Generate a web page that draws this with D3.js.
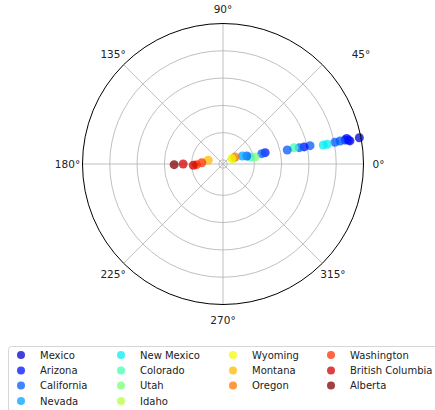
<!DOCTYPE html>
<html>
<head>
<meta charset="utf-8">
<script src="https://cdn.jsdelivr.net/npm/d3@7"></script>
<style>
  html, body { margin: 0; padding: 0; background: #fff; }
  svg { display: block; }
  text { font-family: "DejaVu Sans", sans-serif; }
</style>
</head>
<body>
<svg id="chart" width="435" height="410"></svg>
<script>
// ---- data ----
const states = ["Mexico", "Arizona", "California", "Nevada", "New Mexico", "Colorado", "Utah",
                "Idaho", "Wyoming", "Montana", "Oregon", "Washington", "British Columbia", "Alberta"];
const pointState = ["Mexico", "Mexico", "Arizona", "Arizona", "Arizona", "California", "California",
                    "New Mexico", "New Mexico", "California", "Arizona", "California", "Colorado", "California",
                    "Arizona", "California", "Utah", "Colorado", "California", "Nevada",
                    "Idaho", "Oregon", "Wyoming", "Montana", "Washington", "Washington",
                    "British Columbia", "British Columbia", "Alberta"];
const pointTheta = [10.9, 10.3, 10.8, 11.7, 11.1, 11.1, 11.0,
                    10.7, 10.7, 11.9, 11.9, 12.1, 12.9, 12.3,
                    15.1, 14.9, 12.3, 14.5, 18.6, 22.5,
                    27, 30.3, 31.4, 165.9, 176.5, 181.5,
                    182.5, 180.0, 180.8];
const pointR = [4.94, 4.58, 4.53, 4.48, 4.41, 4.22, 4.03,
                3.74, 3.59, 3.11, 2.89, 2.71, 2.52, 2.26,
                1.45, 1.32, 1.05, 0.88, 0.77, 0.62,
                0.28, 0.36, 0.23, 0.41, 0.63, 0.82,
                0.94, 1.31, 1.64];
const angleTicks = [0, 45, 90, 135, 180, 225, 270, 315];
const radialTicks = [0, 1, 2, 3, 4];
const rMin = -0.15, rMax = 5;

// ---- jet colormap ----
function seg(pts, t) {
  for (let i = 1; i < pts.length; i++) {
    if (t <= pts[i][0]) {
      const [x0, y0] = pts[i - 1], [x1, y1] = pts[i];
      return y0 + (y1 - y0) * (t - x0) / (x1 - x0);
    }
  }
  return pts[pts.length - 1][1];
}
function jet(t) {
  const r = seg([[0, 0], [0.35, 0], [0.66, 1], [0.89, 1], [1, 0.5]], t);
  const g = seg([[0, 0], [0.125, 0], [0.375, 1], [0.64, 1], [0.91, 0], [1, 0]], t);
  const b = seg([[0, 0.5], [0.11, 1], [0.34, 1], [0.65, 0], [1, 0]], t);
  return d3.rgb(r * 255, g * 255, b * 255).formatHex();
}
const color = d3.scaleOrdinal()
  .domain(states)
  .range(states.map((s, i) => jet((i + 1) / states.length)));

// ---- layout ----
const svg = d3.select("#chart");
const cx = 223, cy = 164, R = 140.5;
const rScale = d3.scaleLinear().domain([rMin, rMax]).range([0, R]);
const aScale = d3.scaleLinear().domain([0, 360]).range([0, 2 * Math.PI]);
const px = (r, a) => cx + rScale(r) * Math.cos(aScale(a));
const py = (r, a) => cy - rScale(r) * Math.sin(aScale(a));

const g = svg.append("g");

// radial grid circles
g.selectAll("circle.rgrid").data(radialTicks).enter().append("circle")
  .attr("class", "rgrid")
  .attr("cx", cx).attr("cy", cy)
  .attr("r", d => rScale(d))
  .attr("fill", "none").attr("stroke", "#b0b0b0").attr("stroke-width", 0.8);

// angular grid lines
g.selectAll("line.agrid").data(angleTicks).enter().append("line")
  .attr("class", "agrid")
  .attr("x1", cx).attr("y1", cy)
  .attr("x2", d => px(rMax, d)).attr("y2", d => py(rMax, d))
  .attr("stroke", "#b0b0b0").attr("stroke-width", 0.8);

// points
const pts = pointR.map((r, i) => ({ r, a: pointTheta[i], s: pointState[i] }));
g.selectAll("circle.pt").data(pts).enter().append("circle")
  .attr("class", "pt")
  .attr("cx", d => px(d.r, d.a)).attr("cy", d => py(d.r, d.a))
  .attr("r", 4.5)
  .attr("fill", d => color(d.s))
  .attr("fill-opacity", 0.75);

// outer spine
g.append("circle").attr("cx", cx).attr("cy", cy).attr("r", R)
  .attr("fill", "none").attr("stroke", "#000").attr("stroke-width", 1);

// angle labels
const labR = R + 15;
const labShift = { 45: 28 };
g.selectAll("text.alab").data(angleTicks).enter().append("text")
  .attr("class", "alab")
  .attr("x", d => cx + labR * Math.cos(aScale(d)) + (labShift[d] || 0))
  .attr("y", d => cy - labR * Math.sin(aScale(d)))
  .attr("text-anchor", "middle")
  .attr("dominant-baseline", "central")
  .attr("font-size", 10.5)
  .attr("fill", "#222")
  .text(d => d + "°");

// legend
const leg = svg.append("g");
leg.append("rect")
  .attr("x", 8.5).attr("y", 346.5).attr("width", 440).attr("height", 80).attr("rx", 3)
  .attr("fill", "#fff").attr("stroke", "#d6d6d6").attr("stroke-width", 1);
const colX = [21, 121, 233, 331];
const rowY = [355, 370.5, 385.5, 401];
const perCol = [4, 4, 3, 3];
let idx = 0;
const legItems = [];
perCol.forEach((n, c) => {
  for (let r = 0; r < n; r++) {
    legItems.push({ s: states[idx++], x: colX[c], y: rowY[r] });
  }
});
const li = leg.selectAll("g.li").data(legItems).enter().append("g").attr("class", "li");
li.append("circle")
  .attr("cx", d => d.x).attr("cy", d => d.y).attr("r", 4)
  .attr("fill", d => color(d.s)).attr("fill-opacity", 0.75);
li.append("text")
  .attr("x", d => d.x + 19).attr("y", d => d.y)
  .attr("dominant-baseline", "central")
  .attr("font-size", 10)
  .attr("fill", "#222")
  .text(d => d.s);
</script>
</body>
</html>
